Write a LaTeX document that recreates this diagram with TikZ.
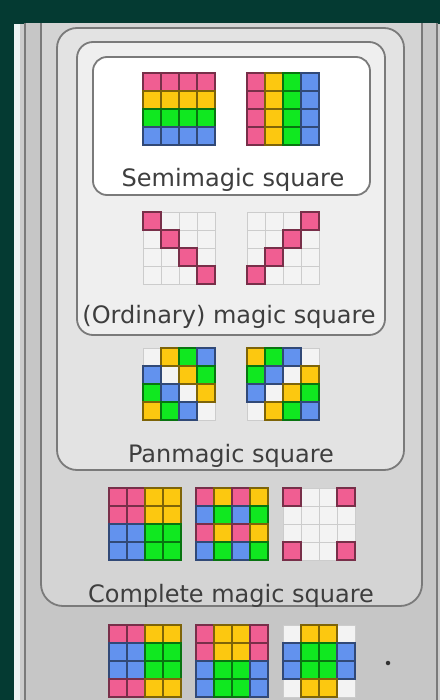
\documentclass[tikz,border=0pt]{standalone}
\usepackage{fontspec}
\setmainfont{DejaVu Sans}
\usepackage{tikz}
\usetikzlibrary{positioning}
\definecolor{msteal}{RGB}{4, 58, 50}
\definecolor{msstrip}{RGB}{236, 244, 244}
\definecolor{msmargin}{RGB}{204, 204, 204}
\definecolor{msouter}{RGB}{198, 198, 198}
\definecolor{mscomplete}{RGB}{212, 212, 212}
\definecolor{mspan}{RGB}{227, 227, 227}
\definecolor{msordinary}{RGB}{239, 239, 239}
\definecolor{mspink}{RGB}{240, 94, 146}
\definecolor{msyellow}{RGB}{252, 200, 16}
\definecolor{msgreen}{RGB}{16, 232, 32}
\definecolor{msblue}{RGB}{98, 146, 238}
\definecolor{msempty}{RGB}{243, 243, 243}
\definecolor{msline}{RGB}{122, 122, 122}
\definecolor{mstext}{RGB}{62, 62, 62}

% one 4x4 square: top-left corner (#1,#2), rows of cell letters #3
\newcommand{\msgrid}[3]{%
  \begin{scope}[shift={(#1,#2)}]
    \foreach \ri in {0,...,3}
      \foreach \ci in {0,...,3}
        \draw[blankcell] (18*\ci,18*\ri) rectangle ++(18,18);
    \foreach \rw [count=\ri from 0] in {#3}
      \foreach \cl [count=\ci from 0] in \rw
        \draw[cell\cl] (18*\ci,18*\ri) rectangle ++(18,18);
  \end{scope}}

\begin{document}
\begin{tikzpicture}[
    x=1pt, y=-1pt,
    family/.style={draw=msline, line width=1.8pt, fill=#1},
    blankcell/.style={fill=msempty, draw=gray!40, line width=0.7pt},
    colcell/.style={fill=#1, draw=#1!50!black, line width=1.3pt},
    cellP/.style={colcell=mspink},
    cellY/.style={colcell=msyellow},
    cellG/.style={colcell=msgreen},
    cellB/.style={colcell=msblue},
    cellE/.style={draw=none},
    boxtitle/.style={font=\fontsize{24}{28}\selectfont, text=mstext, inner sep=0pt, anchor=base}
]
\useasboundingbox (0,0) rectangle (440,700);
\fill[msteal] (0,0) rectangle (440,700);

\begin{scope}
\clip (14,24) rectangle (440,700);
\fill[msstrip] (14,24) rectangle (440,700);
\fill[msmargin] (20,24) rectangle (440,700);

% Nested families of squares
\draw[family=msouter] (25,0) rectangle (437,740);
\draw[family=mscomplete, rounded corners=22pt] (41,0) rectangle (422,606);
\draw[family=mspan, rounded corners=20pt] (57,28) rectangle (404,470);
\draw[family=msordinary, rounded corners=16pt] (77,42) rectangle (385,335);
\draw[family=white, rounded corners=14pt] (93,57) rectangle (370,195);
\end{scope}

% Semimagic square
\msgrid{143}{73}{{P,P,P,P},{Y,Y,Y,Y},{G,G,G,G},{B,B,B,B}}
\msgrid{247}{73}{{P,Y,G,B},{P,Y,G,B},{P,Y,G,B},{P,Y,G,B}}
\node[boxtitle] (semi) at (233,187) {Semimagic square};

% (Ordinary) magic square
\msgrid{143}{212}{{P,E,E,E},{E,P,E,E},{E,E,P,E},{E,E,E,P}}
\msgrid{247}{212}{{E,E,E,P},{E,E,P,E},{E,P,E,E},{P,E,E,E}}
\node[boxtitle] (ordinary) at (229,323) {(Ordinary) magic square};

% Panmagic square
\msgrid{143}{348}{{E,Y,G,B},{B,E,Y,G},{G,B,E,Y},{Y,G,B,E}}
\msgrid{247}{348}{{Y,G,B,E},{G,B,E,Y},{B,E,Y,G},{E,Y,G,B}}
\node[boxtitle] (pan) at (231,462) {Panmagic square};

% Complete magic square
\msgrid{109}{488}{{P,P,Y,Y},{P,P,Y,Y},{B,B,G,G},{B,B,G,G}}
\msgrid{196}{488}{{P,Y,P,Y},{B,G,B,G},{P,Y,P,Y},{B,G,B,G}}
\msgrid{283}{488}{{P,E,E,P},{E,E,E,E},{E,E,E,E},{P,E,E,P}}
\node[boxtitle] (complete) at (231,602) {Complete magic square};

% Outermost family
\msgrid{109}{625}{{P,P,Y,Y},{B,B,G,G},{B,B,G,G},{P,P,Y,Y}}
\msgrid{196}{625}{{P,Y,Y,P},{P,Y,Y,P},{B,G,G,B},{B,G,G,B}}
\msgrid{283}{625}{{E,Y,Y,E},{B,G,G,B},{B,G,G,B},{E,Y,Y,E}}
\node[circle, fill=mstext!80!black, inner sep=0pt, minimum size=4.5pt] (more) at (388,663) {};

\end{tikzpicture}
\end{document}
